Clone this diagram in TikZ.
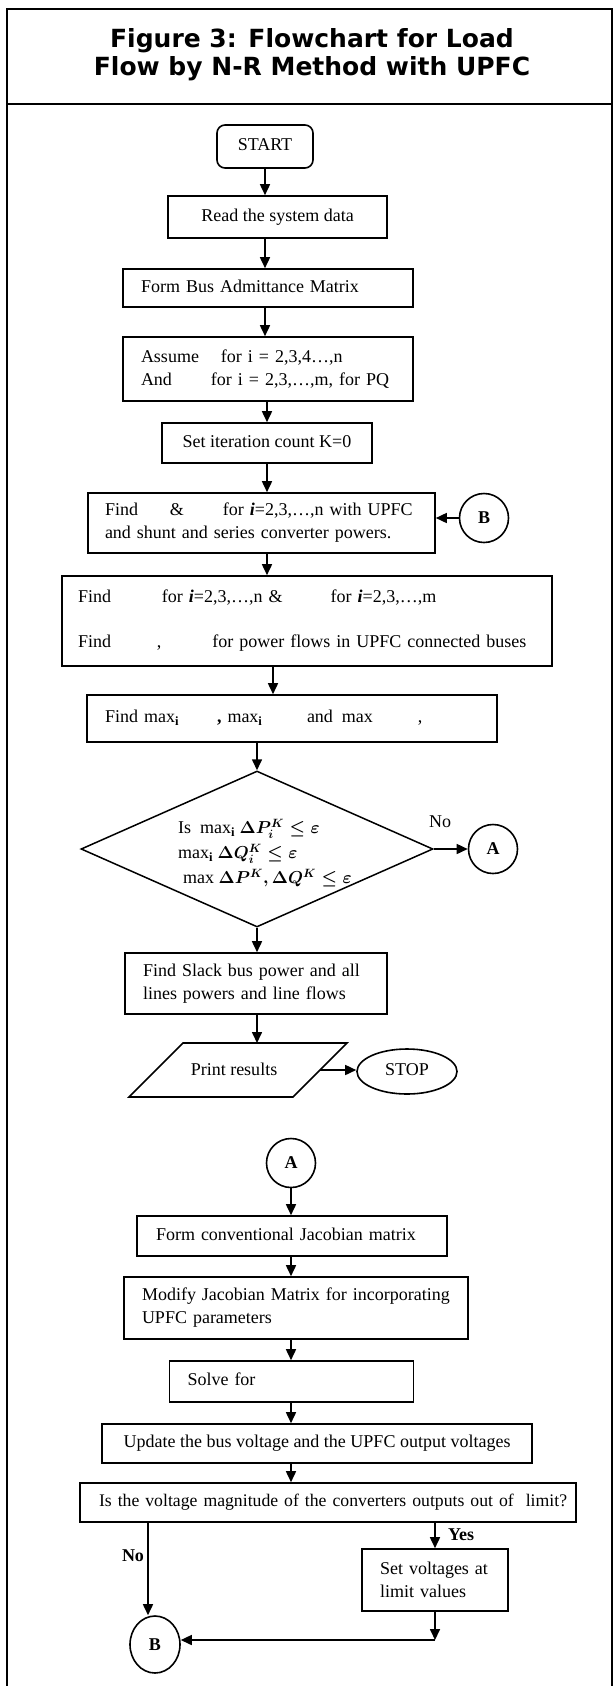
\documentclass[tikz,border=0pt]{standalone}
\usepackage{fontspec}
\usepackage{amsmath}
\setmainfont{Liberation Serif}
\newfontfamily\titlefont{DejaVu Sans}
\usetikzlibrary{arrows.meta,shapes.geometric,calc}
\tikzset{
  box/.style={draw, line width=1.6pt, rectangle, inner ysep=0pt, inner xsep=0pt},
  one/.style={text height=12.5pt, text depth=4pt},
  conn/.style={circle, draw, line width=1.6pt, minimum size=49pt, inner sep=0pt, font=\bfseries},
  arr/.style={line width=1.6pt, -{Triangle[length=11pt,width=10pt]}},
  lab/.style={inner sep=0pt},
  ttl/.style={anchor=base, inner sep=0pt, font={\fontsize{25}{28}\titlefont\bfseries}},
  frame/.style={line width=2pt},
  shp/.style={line width=1.6pt}
}
\begin{document}
\fontsize{18}{23}\selectfont
\begin{tikzpicture}[x=1pt,y=-1pt]
\useasboundingbox (0,0) rectangle (614,1686);
\draw[frame] (7,1686) -- (7,9) -- (612,9) -- (612,1686);
\draw[frame] (7,104) -- (612,104);
\node[ttl] (t1) at (312,48) {Figure 3: Flowchart for Load};
\node[ttl] (t2) at (312,76) {Flow by N-R Method with UPFC};

\node[box, rounded corners=8pt, minimum width=96pt, minimum height=43pt, one] (start) at (265,146.5) {START};
\node[box, minimum width=219pt, minimum height=42pt, one] (read) at (277.5,217) {Read the system data};
\node[box, text width=254pt, inner xsep=18pt, minimum height=38pt, align=left, one] (form) at (268,288) {Form Bus Admittance Matrix};
\node[box, text width=254pt, inner xsep=18pt, minimum height=64pt, align=left] (assume) at (268,369) {\makebox[80pt][l]{Assume}for i = 2,3,4…,n\\\makebox[70pt][l]{And}for i = 2,3,…,m, for PQ};
\node[box, minimum width=210pt, minimum height=40pt, one] (setk) at (267,443) {Set iteration count K=0};
\node[box, text width=313pt, inner xsep=17pt, minimum height=60pt, align=left] (find1) at (261.5,523) {\makebox[65pt][l]{Find}\makebox[53pt][l]{\&}for \textbf{\textit{i}}=2,3,…,n with UPFC\\and shunt and series converter powers.};
\node[conn] (B1) at (484,518) {B};
\node[box, text width=458pt, inner xsep=16pt, minimum height=90pt, align=left] (find2) at (307,621) {\makebox[84pt][l]{Find}for \textbf{\textit{i}}=2,3,…,n \&\hspace{48pt}for \textbf{\textit{i}}=2,3,…,m\\[22pt]\makebox[79pt][l]{Find},\hspace{51pt}for power flows in UPFC connected buses};
\node[box, text width=374pt, inner xsep=18pt, minimum height=47pt, align=left, one] (findmax) at (292,718.5) {\makebox[112pt][l]{Find max\textsubscript{\textbf{i}}}\makebox[90pt][l]{\textbf{,} max\textsubscript{\textbf{i}}}and\hspace{0.5em}max\hspace{45pt},};

\node[draw, diamond, line width=1.5pt, minimum width=352pt, minimum height=156pt, inner sep=0pt] (dec) at (257,849) {};
\node[lab, align=left, anchor=west] (dect) at (178,853) {Is\ \ max\textsubscript{\textbf{i}} $\boldsymbol{\Delta P_i^K \leq \varepsilon}$\\[2pt]max\textsubscript{\textbf{i}} $\boldsymbol{\Delta Q_i^K \leq \varepsilon}$\\[2pt]\hspace{5pt}max $\boldsymbol{\Delta P^K, \Delta Q^K \leq \varepsilon}$};
\node[conn] (A1) at (493,849) {A};
\node[lab] (no1) at (440,822) {No};

\node[box, text width=226pt, inner xsep=18pt, minimum height=61pt, align=left] (slack) at (256,983.5) {Find Slack bus power and all\\lines powers and line flows};
\coordinate (pa) at (129,1097);
\coordinate (pb) at (293,1097);
\coordinate (pc) at (347,1043);
\coordinate (pd) at (183,1043);
\draw[shp] (pa) -- (pb) -- (pc) -- (pd) -- cycle;
\coordinate (pe) at ($(pb)!0.5!(pc)$);
\coordinate (ptop) at (256,1043);
\node[lab, one] (print) at (234,1071) {Print results};
\node[draw, ellipse, line width=1.6pt, minimum width=100pt, minimum height=45pt, inner sep=0pt, one] (stop) at (407,1071.5) {STOP};

\node[conn] (A2) at (291,1163) {A};
\node[box, text width=272pt, inner xsep=19pt, minimum height=40pt, align=left, one] (formjac) at (292,1236) {Form conventional Jacobian matrix};
\node[box, text width=308pt, inner xsep=18pt, minimum height=62pt, align=left] (modify) at (296,1308) {Modify Jacobian Matrix for incorporating\\UPFC parameters};
\node[box, text width=208pt, inner xsep=18pt, minimum height=41pt, align=left, one] (solve) at (291.5,1381.5) {Solve for};
\node[box, minimum width=430pt, minimum height=39pt, one] (update) at (317,1443.5) {Update the bus voltage and the UPFC output voltages};
\node[box, text width=458pt, inner xsep=19pt, minimum height=39pt, align=left, one] (isv) at (328,1502.5) {\fontsize{17.7}{23}\selectfont\mbox{Is the voltage magnitude of the converters outputs out of\ \ limit?}};
\node[box, text width=110pt, inner xsep=18pt, minimum height=62pt, align=left] (setv) at (435,1580) {Set voltages at\\limit values};
\node[draw, ellipse, line width=1.6pt, minimum width=50pt, minimum height=57pt, inner sep=0pt, font=\bfseries] (B2) at (155,1644.5) {B};
\node[lab, font=\bfseries] (no2) at (133,1556) {No};
\node[lab, font=\bfseries] (yes) at (461,1535) {Yes};

\draw[arr] (start.south) -- (start.south |- read.north);
\draw[arr] (read.south -| start.south) -- (form.north -| start.south);
\draw[arr] (form.south -| start.south) -- (assume.north -| start.south);
\draw[arr] (assume.south -| setk.north) -- (setk.north);
\draw[arr] (setk.south) -- (setk.south |- find1.north);
\draw[arr] (find1.south -| setk.south) -- (find2.north -| setk.south);
\coordinate (ax2) at (273,0);
\draw[arr] (find2.south -| ax2) -- (findmax.north -| ax2);
\draw[arr] (findmax.south -| dec.north) -- (dec.north);
\draw[arr] (B1.west) -- (B1.west -| find1.east);
\draw[arr] (dec.east) -- (A1.west);
\draw[arr] (dec.south) -- (dec.south |- slack.north);
\draw[arr] (slack.south -| dec.south) -- (ptop -| dec.south);
\draw[arr] (pe) -- (pe -| stop.west);
\draw[arr] (A2.south) -- (A2.south |- formjac.north);
\draw[arr] (formjac.south -| A2.south) -- (modify.north -| A2.south);
\draw[arr] (modify.south -| A2.south) -- (solve.north -| A2.south);
\draw[arr] (solve.south -| A2.south) -- (update.north -| A2.south);
\draw[arr] (update.south -| A2.south) -- (isv.north -| A2.south);
\coordinate (nox) at (148,0);
\draw[arr] (isv.south -| nox) -- (nox |- B2.north);
\draw[arr] (isv.south -| setv.north) -- (setv.north);
\coordinate (corner) at (435,1640);
\draw[arr] (setv.south) -- (corner);
\draw[arr] (corner) -- (corner -| B2.east);
\end{tikzpicture}
\end{document}
